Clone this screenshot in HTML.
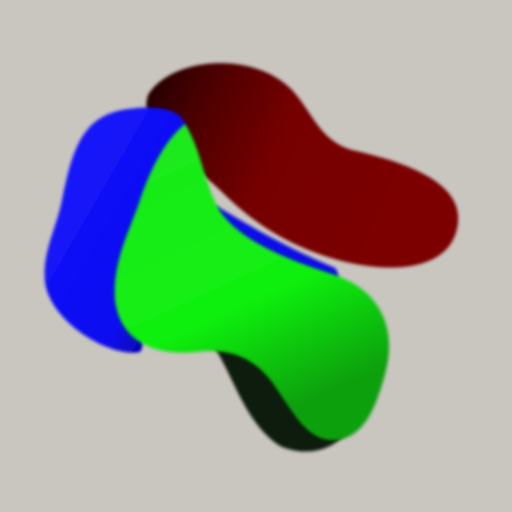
<!DOCTYPE html>
<html>
<head>
<meta charset="utf-8">
<style>
html,body{margin:0;padding:0;background:#c9c5bf;}
svg{display:block;}
</style>
</head>
<body>
<svg width="512" height="512" viewBox="0 0 512 512">
  <defs>
    <linearGradient id="redG" x1="0" y1="0" x2="1" y2="0.3">
      <stop offset="0" stop-color="#1a0000"/>
      <stop offset="0.2" stop-color="#4a0000"/>
      <stop offset="0.5" stop-color="#760000"/>
      <stop offset="1" stop-color="#7c0202"/>
    </linearGradient>
    <linearGradient id="blueG" x1="0" y1="0" x2="1" y2="1">
      <stop offset="0" stop-color="#1a1aff"/>
      <stop offset="0.7" stop-color="#0a0af0"/>
      <stop offset="1" stop-color="#00006a"/>
    </linearGradient>
    <linearGradient id="greenG" x1="0" y1="0" x2="0.4" y2="1">
      <stop offset="0" stop-color="#1ee81e"/>
      <stop offset="0.65" stop-color="#10f010"/>
      <stop offset="1" stop-color="#0aa00a"/>
    </linearGradient>
    <filter id="soft"><feGaussianBlur stdDeviation="1.5"/></filter>
  </defs>
  <rect width="512" height="512" fill="#c9c5bf"/>
  <path filter="url(#soft)" fill="url(#redG)"
    d="M148,95 C170,58 250,50 290,88 C312,110 318,140 352,150 C405,162 462,182 458,222 C454,268 398,276 338,260 C288,246 252,222 222,192 C192,162 136,132 148,95 Z"/>
  <path filter="url(#soft)" fill="#0a0ae8"
    d="M215,205 C240,220 280,245 335,268 C345,280 330,290 310,285 C270,275 235,255 215,235 Z"/>
  <path filter="url(#soft)" fill="url(#blueG)"
    d="M62,200 C72,150 82,118 122,110 C162,103 192,110 186,140 C180,172 150,200 140,240 C130,280 150,340 140,352 C110,358 50,322 45,282 C42,252 56,230 62,200 Z"/>
  <path filter="url(#soft)" fill="#0c1a0c"
    d="M205,335 C232,365 240,420 280,446 C312,460 345,446 352,420 L340,345 Z"/>
  <path filter="url(#soft)" fill="url(#greenG)"
    d="M185,124 C202,150 205,190 222,214 C242,240 282,258 332,274 C382,290 396,330 386,370 C376,410 362,442 330,440 C305,438 292,410 272,382 C252,356 228,348 195,352 C152,356 120,340 115,300 C112,262 130,230 140,200 C150,170 165,140 185,124 Z"/>
</svg>
</body>
</html>
